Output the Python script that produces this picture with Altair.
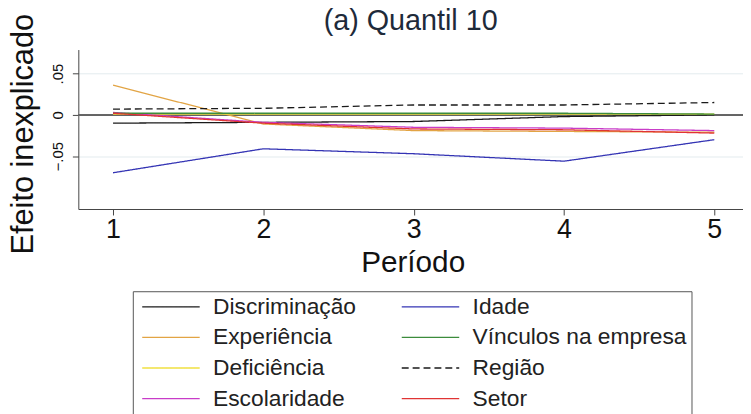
import altair as alt
import pandas as pd

periodos = [1, 2, 3, 4, 5]
series = ["Discriminação", "Experiência", "Deficiência", "Escolaridade",
          "Idade", "Vínculos na empresa", "Região", "Setor"]
discriminacao = [-0.010, -0.009, -0.008, -0.002, 0.000]
experiencia = [0.036, -0.011, -0.019, -0.020, -0.021]
deficiencia = [0.001, 0.001, 0.001, 0.001, 0.001]
escolaridade = [0.003, -0.009, -0.015, -0.016, -0.019]
idade = [-0.070, -0.041, -0.047, -0.056, -0.030]
vinculos = [0.002, 0.002, 0.002, 0.002, 0.001]
regiao = [0.007, 0.008, 0.012, 0.012, 0.015]
setor = [0.002, -0.010, -0.017, -0.018, -0.022]

cores = ["#1a1a1a", "#e2a444", "#f0e040", "#c83cc8",
         "#3434b4", "#3c8c3c", "#1a1a1a", "#e03434"]
tracos = [[1, 0], [1, 0], [1, 0], [1, 0], [1, 0], [1, 0], [7, 4], [1, 0]]

valores = [discriminacao, experiencia, deficiencia, escolaridade,
           idade, vinculos, regiao, setor]
rows = []
for nome, vals in zip(series, valores):
    for p, v in zip(periodos, vals):
        rows.append({"serie": nome, "periodo": p, "valor": v})
df = pd.DataFrame(rows)

FONT = "Liberation Sans"

legend = alt.Legend(
    title=None, orient="none", legendX=55, legendY=244, columns=2,
    symbolType="M-1,0H8.67", symbolSize=144, symbolStrokeWidth=1.3,
    labelFontSize=23, labelFont=FONT, labelColor="#222", labelOffset=54,
    columnPadding=40, rowPadding=7, padding=4,
    strokeColor="#555", fillColor="white", labelLimit=400,
)

xscale = alt.Scale(domain=[0.769, 5.191], nice=False, zero=False)
yscale = alt.Scale(domain=[-0.1139, 0.0791], nice=False, zero=False)

zero = alt.Chart(df).mark_rule(color="#666", strokeWidth=1).encode(
    y=alt.datum(0, scale=yscale)
)

lines = alt.Chart(df).mark_line(strokeWidth=1.3).encode(
    x=alt.X("periodo:Q", scale=xscale,
            axis=alt.Axis(values=periodos, format="d", title="Período",
                          labelFontSize=27, labelPadding=2, tickSize=6,
                          titleFontSize=30, titleFontWeight="normal",
                          titleBaseline="alphabetic", titleX=337.5, titleY=63,
                          grid=False)),
    y=alt.Y("valor:Q", scale=yscale,
            axis=alt.Axis(values=[-0.05, 0, 0.05], title="Efeito inexplicado",
                          labelExpr="datum.value == 0 ? '0' : replace(format(datum.value, '.2f'), '0.', '.')",
                          labelAngle=270, labelAlign="center",
                          labelBaseline="alphabetic", labelFontSize=15,
                          labelPadding=10, tickSize=6,
                          titleFontSize=31, titleFontWeight="normal",
                          titleAngle=270, titleAlign="center",
                          titleBaseline="alphabetic", titleX=-46, titleY=85,
                          grid=True, gridColor="#e3ebee")),
    color=alt.Color("serie:N", scale=alt.Scale(domain=series, range=cores),
                    sort=series, legend=legend),
    strokeDash=alt.StrokeDash("serie:N", scale=alt.Scale(domain=series, range=tracos),
                              sort=series, legend=legend),
    order=alt.Order("periodo:Q"),
)

chart = alt.layer(zero, lines).properties(
    width=671, height=161,
    title=alt.TitleParams("(a) Quantil 10", fontSize=29, font=FONT,
                          fontWeight="normal", color="#1e2a3a",
                          anchor="middle", baseline="alphabetic", offset=0,
                          dy=46, frame="group"),
    autosize=alt.AutoSizeParams(type="none"),
    padding={"left": 71, "top": 40, "right": 0, "bottom": 205},
).configure_axis(
    labelFont=FONT, titleFont=FONT, labelColor="#111", titleColor="#111",
    domainColor="#444", tickColor="#444",
).configure_view(stroke=None)

chart.save("out.html", embed_options={"renderer": "svg", "actions": False})
